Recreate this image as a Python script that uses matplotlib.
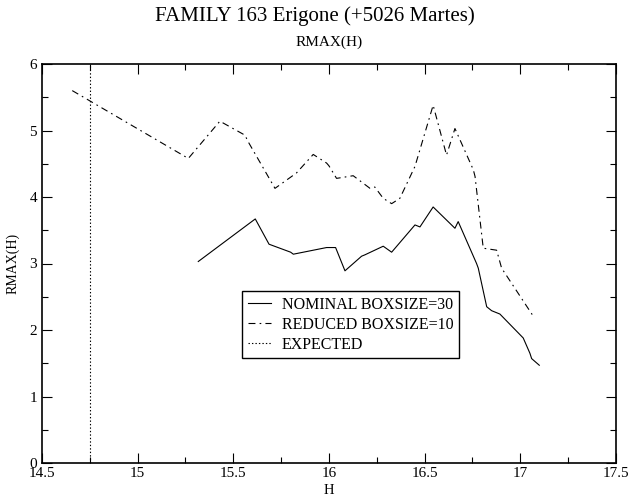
import matplotlib
matplotlib.use("Agg")
import matplotlib.pyplot as plt
from matplotlib.ticker import MultipleLocator

plt.rcParams['font.family'] = ['Liberation Serif', 'DejaVu Serif']
plt.rcParams['lines.scale_dashes'] = False

# Nominal boxsize=30
h_nom = [15.317, 15.615, 15.687, 15.80, 15.814, 15.988, 16.035, 16.084, 16.171, 16.188,
         16.284, 16.328, 16.45, 16.476, 16.545, 16.659, 16.676, 16.772, 16.781,
         16.825, 16.851, 16.894, 17.016, 17.051, 17.06, 17.10]
r_nom = [3.03, 3.67, 3.29, 3.17, 3.14, 3.24, 3.24, 2.89, 3.11, 3.13,
         3.26, 3.17, 3.58, 3.55, 3.85, 3.53, 3.63, 3.00, 2.93,
         2.35, 2.29, 2.24, 1.88, 1.65, 1.57, 1.47]

# Reduced boxsize=10
h_red = [14.658, 15.265, 15.43, 15.561, 15.578, 15.718, 15.83, 15.918, 15.988, 16.0,
         16.04, 16.127, 16.215, 16.24, 16.284, 16.328, 16.371, 16.45, 16.545,
         16.615, 16.659, 16.755, 16.764, 16.807, 16.877, 16.903, 17.068]
r_red = [5.60, 4.58, 5.14, 4.93, 4.83, 4.13, 4.36, 4.64, 4.51, 4.47,
         4.28, 4.32, 4.13, 4.15, 3.98, 3.90, 3.98, 4.46, 5.38,
         4.63, 5.03, 4.41, 4.31, 3.23, 3.20, 2.93, 2.21]

expected_h = 14.75

fig = plt.figure(figsize=(6.29, 5.00), dpi=100)
ax = fig.add_axes([0.0668, 0.074, 0.9122, 0.798])

ax.plot(h_nom, r_nom, color='black', lw=0.8, ls='-', label='NOMINAL BOXSIZE=30')
ax.plot(h_red, r_red, color='black', lw=0.8, ls=(0, (5, 3, 1.2, 3)), label='REDUCED BOXSIZE=10')
ax.plot([expected_h, expected_h], [0, 6], color='black', lw=0.8, ls=(0, (1, 1.5)), label='EXPECTED')

ax.set_xlim(14.5, 17.5)
ax.set_ylim(0, 6)
ax.xaxis.set_major_locator(MultipleLocator(0.5))
ax.xaxis.set_minor_locator(MultipleLocator(0.25))
ax.yaxis.set_major_locator(MultipleLocator(1))
ax.yaxis.set_minor_locator(MultipleLocator(0.5))
ax.set_xticks([14.5, 15, 15.5, 16, 16.5, 17, 17.5])
ax.set_xticklabels(['14.5', '15', '15.5', '16', '16.5', '17', '17.5'])
ax.tick_params(which='both', direction='in', top=True, right=True, labelsize=11, width=0.8)
ax.tick_params(which='major', length=7)
ax.tick_params(which='minor', length=4)
ax.tick_params(axis='x', pad=3)
for s in ax.spines.values():
    s.set_linewidth(1.2)

ax.set_xlabel('H', fontsize=10.5, labelpad=3)
ax.set_ylabel('RMAX(H)', fontsize=10, labelpad=7)
ax.set_title('RMAX(H)', fontsize=11, pad=13)
fig.text(0.5, 0.968, 'FAMILY 163 Erigone (+5026 Martes)', ha='center', va='center', fontsize=15)

leg = ax.legend(loc='upper left', bbox_to_anchor=(0.3484, 0.431), fontsize=11.5,
                frameon=True, fancybox=False, edgecolor='black', framealpha=1,
                borderpad=0.35, labelspacing=0.25, handlelength=1.45, handletextpad=0.7,
                borderaxespad=0)
leg.get_frame().set_linewidth(1.0)

fig.savefig('out.png', dpi=100)
